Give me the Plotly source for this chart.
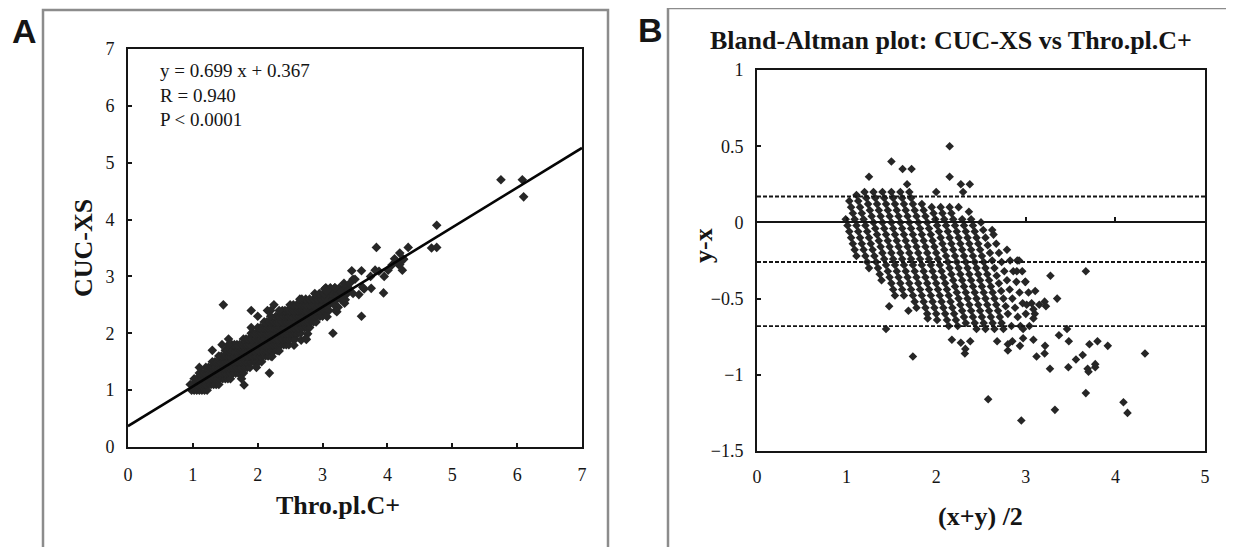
import plotly.graph_objects as go

# ---------------- data ----------------
# CUC-XS is reported in 0.1 steps; for each CUC-XS value, the Thro.pl.C+ values of the dense cloud
cuc_rows = [1.0, 1.1, 1.2, 1.3, 1.4, 1.5, 1.6, 1.7, 1.8, 1.9,
            2.0, 2.1, 2.2, 2.3, 2.4, 2.5, 2.6, 2.7, 2.8]
thro_rows = [
    [0.98, 1.02, 1.06, 1.10, 1.14, 1.18, 1.22],
    [0.96, 1.00, 1.04, 1.08, 1.12, 1.16, 1.20, 1.24, 1.28, 1.32, 1.36, 1.40],
    [1.02, 1.06, 1.10, 1.14, 1.18, 1.22, 1.26, 1.30, 1.34, 1.38, 1.42, 1.46, 1.50, 1.54, 1.58],
    [1.10, 1.14, 1.18, 1.22, 1.26, 1.30, 1.34, 1.38, 1.42, 1.46, 1.50, 1.54, 1.58, 1.62, 1.66,
     1.70, 1.74, 1.78],
    [1.20, 1.24, 1.28, 1.32, 1.36, 1.40, 1.44, 1.48, 1.52, 1.56, 1.60, 1.64, 1.68, 1.72, 1.76,
     1.80, 1.84, 1.88],
    [1.30, 1.34, 1.38, 1.42, 1.46, 1.50, 1.54, 1.58, 1.62, 1.66, 1.70, 1.74, 1.78, 1.82, 1.86,
     1.90, 1.94, 1.98, 2.02, 2.06],
    [1.40, 1.44, 1.48, 1.52, 1.56, 1.60, 1.64, 1.68, 1.72, 1.76, 1.80, 1.84, 1.88, 1.92, 1.96,
     2.00, 2.04, 2.08, 2.12, 2.16, 2.20],
    [1.50, 1.54, 1.58, 1.62, 1.66, 1.70, 1.74, 1.78, 1.82, 1.86, 1.90, 1.94, 1.98, 2.02, 2.06,
     2.10, 2.14, 2.18, 2.22, 2.26, 2.30],
    [1.60, 1.64, 1.68, 1.72, 1.76, 1.80, 1.84, 1.88, 1.92, 1.96, 2.00, 2.04, 2.08, 2.12, 2.16,
     2.20, 2.24, 2.28, 2.32, 2.36, 2.40, 2.44, 2.48],
    [1.78, 1.82, 1.86, 1.90, 1.94, 1.98, 2.02, 2.06, 2.10, 2.14, 2.18, 2.22, 2.26, 2.30, 2.34,
     2.38, 2.42, 2.46, 2.50, 2.54, 2.58],
    [1.90, 1.94, 1.98, 2.02, 2.06, 2.10, 2.14, 2.18, 2.22, 2.26, 2.30, 2.34, 2.38, 2.42, 2.46,
     2.50, 2.54, 2.58, 2.62, 2.66],
    [2.00, 2.04, 2.08, 2.12, 2.16, 2.20, 2.24, 2.28, 2.32, 2.36, 2.40, 2.44, 2.48, 2.52, 2.56,
     2.60, 2.64, 2.68, 2.72, 2.76, 2.80],
    [2.10, 2.14, 2.18, 2.22, 2.26, 2.30, 2.34, 2.38, 2.42, 2.46, 2.50, 2.54, 2.58, 2.62, 2.66,
     2.70, 2.74, 2.78, 2.82, 2.86, 2.90],
    [2.28, 2.32, 2.36, 2.40, 2.44, 2.48, 2.52, 2.56, 2.60, 2.64, 2.68, 2.72, 2.76, 2.80, 2.84,
     2.88, 2.92, 2.96, 3.00],
    [2.38, 2.42, 2.46, 2.50, 2.54, 2.58, 2.62, 2.66, 2.70, 2.74, 2.78, 2.82, 2.86, 2.90, 2.94,
     2.98, 3.02, 3.06, 3.10],
    [2.50, 2.55, 2.60, 2.65, 2.70, 2.75, 2.80, 2.85, 2.90, 2.95, 3.00, 3.05, 3.10, 3.18],
    [2.68, 2.74, 2.80, 2.86, 2.92, 2.98, 3.04, 3.10, 3.16, 3.22, 3.28],
    [2.88, 2.95, 3.02, 3.09, 3.16, 3.23, 3.30, 3.38],
    [3.05, 3.12, 3.19, 3.26, 3.33, 3.40],
]

# Scattered points (Thro.pl.C+, CUC-XS)
thro_scatter = [1.9, 2.0, 1.1, 1.3, 1.45, 1.55, 1.55, 1.9, 2.15, 2.25, 2.2, 2.2, 2.33, 2.65, 1.47,
                3.24, 3.34, 3.35, 3.47, 3.56, 3.64, 3.62, 3.75, 3.74, 3.81, 3.87, 3.95, 4.01, 4.07,
                4.17, 4.19, 3.83, 4.11, 4.19, 4.24, 4.25, 4.32, 4.76, 4.23, 4.68, 4.76, 3.16, 3.6,
                3.94, 2.18, 1.79, 1.75, 1.98, 2.22, 2.33, 2.56, 2.67, 2.77, 2.74, 2.75, 3.07, 3.2,
                3.22, 3.32, 3.28, 3.37, 3.4, 3.19, 3.03, 3.06, 3.47, 3.33, 3.45, 3.6, 3.5, 3.42,
                5.75, 6.08, 6.1]
cuc_scatter = [2.4, 2.3, 1.4, 1.7, 1.8, 1.9, 1.8, 2.1, 2.4, 2.5, 2.4, 2.3, 2.4, 2.6, 2.5,
               2.46, 2.53, 2.59, 2.70, 2.68, 2.78, 2.81, 2.79, 3.0, 3.11, 3.09, 3.0, 3.11, 3.2,
               3.21, 3.21, 3.51, 3.31, 3.41, 3.31, 3.3, 3.51, 3.9, 3.11, 3.5, 3.51, 2.0, 2.3,
               2.71, 1.3, 1.09, 1.2, 1.4, 1.59, 1.69, 1.79, 1.88, 1.99, 1.91, 1.89, 2.29, 2.4,
               2.38, 2.62, 2.74, 2.8, 2.77, 2.8, 2.78, 2.74, 2.95, 2.88, 3.1, 3.1, 2.95, 2.88,
               4.7, 4.7, 4.4]

# Regression (from the printed equation) and Bland-Altman reference lines
slope, intercept = 0.699, 0.367
eq_text = "y = 0.699 x + 0.367<br>R = 0.940<br>P < 0.0001"
mean_diff, upper_loa, lower_loa = -0.26, 0.17, -0.68

a_range = [0, 7]
b_xrange = [0, 5]
b_yrange = [-1.5, 1]

# ---------------- assemble ----------------
thro = [t for row in thro_rows for t in row] + thro_scatter
cuc = [c for c, row in zip(cuc_rows, thro_rows) for _ in row] + cuc_scatter
ba_mean = [(a + b) / 2 for a, b in zip(thro, cuc)]
ba_diff = [b - a for a, b in zip(thro, cuc)]

W, H = 1234, 547
OFF = 8  # page body margin
def px(xp): return (xp - OFF) / W
def py(yp): return 1 - (yp - OFF) / H

A_dom_x = [px(128), px(582)]
A_dom_y = [py(447), py(49)]
B_dom_x = [px(757), px(1205)]
B_dom_y = [py(451), py(70)]

ink = "#151515"
dot = "#262626"
serif = "Liberation Serif"

fig = go.Figure()
fig.add_trace(go.Scatter(x=thro, y=cuc, mode="markers",
                         marker=dict(symbol="diamond", size=7.4, color=dot, line=dict(width=0)),
                         xaxis="x", yaxis="y", showlegend=False, hoverinfo="skip"))
fig.add_trace(go.Scatter(x=a_range, y=[slope * v + intercept for v in a_range], mode="lines",
                         line=dict(color="#050505", width=2.6), xaxis="x", yaxis="y",
                         showlegend=False, hoverinfo="skip"))
fig.add_trace(go.Scatter(x=ba_mean, y=ba_diff, mode="markers",
                         marker=dict(symbol="diamond", size=6.6, color=dot, line=dict(width=0)),
                         xaxis="x2", yaxis="y2", showlegend=False, hoverinfo="skip"))
# zero reference line drawn as an axis (with Excel-like small ticks)
fig.add_trace(go.Scatter(x=b_xrange, y=[0, 0], mode="lines", line=dict(width=0, color="rgba(0,0,0,0)"),
                         xaxis="x3", yaxis="y2", showlegend=False, hoverinfo="skip"))

tickfont = dict(family=serif, size=18, color=ink)
common = dict(showgrid=False, zeroline=False, showline=True, linecolor=ink, linewidth=2,
              mirror=True, tickfont=tickfont, ticklen=4, tickwidth=1.5, tickcolor=ink)

zero_pos = B_dom_y[0] + (0 - b_yrange[0]) / (b_yrange[1] - b_yrange[0]) * (B_dom_y[1] - B_dom_y[0])

fig.update_layout(
    width=W, height=H, margin=dict(l=0, r=0, t=0, b=0, autoexpand=False),
    paper_bgcolor="white", plot_bgcolor="white",
    xaxis=dict(domain=A_dom_x, range=a_range, dtick=1, ticks="inside", anchor="y",
               ticklabelstandoff=10, **common),
    yaxis=dict(domain=A_dom_y, range=a_range, dtick=1, ticks="inside", anchor="x",
               ticklabelstandoff=8, **common),
    xaxis2=dict(domain=B_dom_x, range=b_xrange, dtick=1, ticks="", anchor="y2",
                ticklabelstandoff=8, **common),
    yaxis2=dict(domain=B_dom_y, range=b_yrange, dtick=0.5, ticks="inside", anchor="x2",
                ticklabelstandoff=8, **common),
    xaxis3=dict(domain=B_dom_x, range=b_xrange, dtick=1, ticks="inside", ticklen=4,
                tickcolor=ink, tickwidth=1.5, showticklabels=False, showgrid=False,
                zeroline=False, showline=True, linecolor=ink, linewidth=2,
                anchor="free", overlaying="x2", position=zero_pos),
)

# Bland-Altman dashed lines
for val in (upper_loa, mean_diff, lower_loa):
    fig.add_shape(type="line", xref="x2 domain", yref="y2", x0=0, x1=1, y0=val, y1=val,
                  line=dict(color=ink, width=1.8, dash="4px,2px"))

# Panel frames
frame = dict(color="#8c8c8c", width=2.5)
fig.add_shape(type="rect", xref="paper", yref="paper", x0=px(43), x1=px(608), y0=-0.1, y1=py(10),
              line=frame, layer="below")
fig.add_shape(type="rect", xref="paper", yref="paper", x0=px(668), x1=1.1, y0=-0.1, y1=py(8),
              line=frame, layer="below")

def ann(text, x, y, size, bold=True, family=serif, angle=0):
    fig.add_annotation(text=f"<b>{text}</b>" if bold else text, x=px(x), y=py(y),
                       xref="paper", yref="paper", showarrow=False, textangle=angle,
                       xanchor="center", yanchor="middle",
                       font=dict(family=family, size=size, color=ink))

ann("A", 24, 31, 34, family="Liberation Sans")
ann("B", 650, 30, 34, family="Liberation Sans")
ann("CUC-XS", 84, 248, 26, angle=-90)
ann("Thro.pl.C+", 338, 505, 26)
ann("y-x", 703, 246, 26, angle=-90)
ann("(x+y) /2", 980, 516, 26)
ann("Bland-Altman plot: CUC-XS vs Thro.pl.C+", 951, 40, 26)
fig.add_annotation(text=eq_text, x=px(158), y=py(58), xref="paper", yref="paper",
                   xanchor="left", yanchor="top", align="left", showarrow=False,
                   font=dict(family=serif, size=19, color=ink))

fig.write_html("out.html")
